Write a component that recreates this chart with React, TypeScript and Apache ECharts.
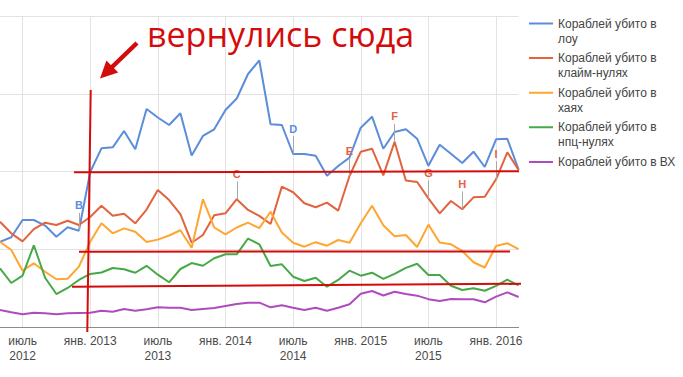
import React, { useEffect, useRef } from "react";
import * as echarts from "echarts";

// Months (May 2012 – March 2016)
const months = [
  "2012-05", "2012-06", "2012-07", "2012-08", "2012-09", "2012-10", "2012-11", "2012-12",
  "2013-01", "2013-02", "2013-03", "2013-04", "2013-05", "2013-06", "2013-07", "2013-08",
  "2013-09", "2013-10", "2013-11", "2013-12", "2014-01", "2014-02", "2014-03", "2014-04",
  "2014-05", "2014-06", "2014-07", "2014-08", "2014-09", "2014-10", "2014-11", "2014-12",
  "2015-01", "2015-02", "2015-03", "2015-04", "2015-05", "2015-06", "2015-07", "2015-08",
  "2015-09", "2015-10", "2015-11", "2015-12", "2016-01", "2016-02", "2016-03",
];

const seriesNames = [
  "Кораблей убито в лоу",
  "Кораблей убито в клайм-нулях",
  "Кораблей убито в хаях",
  "Кораблей убито в нпц-нулях",
  "Кораблей убито в ВХ",
];
const legendLabels = [
  "Кораблей убито в\nлоу",
  "Кораблей убито в\nклайм-нулях",
  "Кораблей убито в\nхаях",
  "Кораблей убито в\nнпц-нулях",
  "Кораблей убито в ВХ\n ",
];
const seriesColors = ["#5b8ddb", "#e4633f", "#ffa632", "#46a946", "#b04bbf"];

const lowSec = [109.7, 115.4, 137.6, 137.6, 130.5, 116.1, 128.2, 123.9, 199.4, 229.8,
  231.1, 252.1, 228.6, 280.4, 269.5, 259.8, 274.9, 220.6, 245.7, 254.3,
  279.1, 293.9, 325.4, 342.8, 260.8, 259.8, 222.5, 222.5, 220.3, 194.5,
  207.1, 217.8, 256.3, 270.5, 229.3, 250.8, 254.4, 242.2, 207.3, 234.5,
  222.9, 210.9, 225.5, 205.8, 241.4, 242.1, 202.3];
const claimNull = [135.4, 120.5, 110.2, 125.8, 134.2, 131.2, 136.7, 131.2, 141.5, 155.9,
  143.2, 145.6, 133.4, 151.0, 176.2, 163.3, 145.3, 108.4, 118.3, 143.7,
  146.2, 164.4, 150.5, 143.0, 132.5, 180.5, 173.3, 159.1, 154.0, 159.9,
  149.6, 194.2, 225.5, 229.3, 195.1, 238.3, 188.4, 186.5, 165.5, 146.2,
  162.1, 151.4, 166.8, 167.6, 190.0, 224.7, 201.9];
const highSec = [109.7, 99.0, 72.4, 81.9, 71.1, 61.4, 62.1, 77.6, 109.7, 133.4,
  120.5, 126.9, 122.6, 109.3, 112.4, 117.7, 124.4, 101.9, 164.2, 128.0,
  119.2, 128.0, 134.2, 127.1, 148.3, 121.5, 108.4, 103.3, 109.1, 104.6,
  111.9, 108.4, 133.4, 155.9, 130.8, 116.7, 118.3, 102.9, 131.7, 108.7,
  106.4, 97.8, 83.3, 76.5, 104.2, 107.7, 100.3];
const npcNull = [75.5, 56.6, 66.0, 105.1, 63.4, 42.4, 50.2, 60.5, 68.2, 70.1,
  75.9, 74.2, 69.8, 78.7, 67.3, 57.5, 74.6, 82.3, 78.8, 88.4,
  93.5, 93.5, 113.8, 106.4, 78.5, 80.6, 64.7, 59.2, 63.4, 51.8,
  60.5, 72.4, 66.0, 69.8, 62.0, 68.4, 76.1, 81.4, 66.9, 66.9,
  53.1, 47.6, 49.8, 46.6, 53.0, 60.8, 53.4];
const wormhole = [21.9, 18.9, 16.3, 18.4, 17.6, 16.3, 17.6, 18.0, 18.4, 21.0,
  19.7, 23.2, 21.0, 22.8, 25.3, 24.8, 24.8, 21.9, 23.2, 24.4,
  27.0, 29.6, 31.3, 31.3, 25.3, 27.9, 24.8, 21.9, 24.8, 21.0,
  24.8, 29.2, 42.8, 46.3, 40.5, 45.4, 42.4, 40.3, 35.8, 33.4,
  36.0, 35.8, 35.8, 31.8, 39.0, 44.6, 38.6];

const seriesValues = [lowSec, claimNull, highSec, npcNull, wormhole];

// Annotations: series index, month, letter
const annotations = [
  { series: 0, month: "2012-12", letter: "B" },
  { series: 1, month: "2014-02", letter: "C" },
  { series: 0, month: "2014-07", letter: "D" },
  { series: 1, month: "2014-12", letter: "E" },
  { series: 1, month: "2015-04", letter: "F" },
  { series: 1, month: "2015-07", letter: "G" },
  { series: 1, month: "2015-10", letter: "H" },
  { series: 1, month: "2016-01", letter: "I" },
];

const Y_MAX = 400;
const Y_STEP = 100;
const STEM = 23; // stem length in value units

const RED = "#d40b0b";
const FONT = "'Liberation Sans', Arial, sans-serif";

export default function App() {
  const ref = useRef<HTMLDivElement>(null);

  useEffect(() => {
    document.body.style.margin = "0";
    const chart = echarts.init(ref.current!, null, { renderer: "svg" });

    const isTick = (v: string) => v.endsWith("-01") || v.endsWith("-07");

    const series = seriesNames.map((name, si) => {
      const annos = annotations.filter((a) => a.series === si);
      const s: any = {
        name,
        type: "line",
        data: seriesValues[si],
        showSymbol: false,
        symbol: "none",
        color: seriesColors[si],
        lineStyle: { width: 2, color: seriesColors[si] },
        emphasis: { disabled: true },
        silent: true,
      };
      if (annos.length) {
        s.markLine = {
          silent: true,
          animation: false,
          symbol: ["none", "none"],
          lineStyle: { color: "#a8a8a8", width: 1, type: "solid" },
          label: {
            show: true,
            position: "end",
            distance: 2,
            formatter: "{b}",
            color: seriesColors[si],
            fontWeight: "bold",
            fontSize: 11,
            fontFamily: FONT,
          },
          emphasis: { disabled: true },
          data: annos.map((a) => {
            const v = seriesValues[si][months.indexOf(a.month)];
            return [
              { name: a.letter, coord: [a.month, v] },
              { coord: [a.month, v + STEM] },
            ];
          }),
        };
      }
      return s;
    });

    chart.setOption({
      animation: false,
      backgroundColor: "#ffffff",
      grid: { left: 0, right: 164.4, top: 16, bottom: 50, containLabel: false },
      xAxis: {
        type: "category",
        data: months,
        boundaryGap: false,
        axisLine: { show: true, lineStyle: { color: "#8c8c8c", width: 1 } },
        axisTick: { show: false },
        splitLine: {
          show: true,
          interval: (_i: number, v: string) => isTick(v),
          lineStyle: { color: "#e3e3e3", width: 1 },
        },
        axisLabel: {
          interval: (_i: number, v: string) => isTick(v),
          formatter: (v: string) => {
            const [y, m] = v.split("-");
            if (m === "01") return `янв. ${y}`;
            if (m === "07") return `июль\n${y}`;
            return "";
          },
          color: "#4a4a4a",
          fontSize: 12,
          fontFamily: FONT,
          lineHeight: 15,
          margin: 6,
        },
      },
      yAxis: {
        type: "value",
        min: 0,
        max: Y_MAX,
        interval: Y_STEP,
        axisLine: { show: false },
        axisTick: { show: false },
        axisLabel: { show: false },
        splitLine: { show: true, lineStyle: { color: "#e3e3e3", width: 1 } },
      },
      legend: {
        orient: "vertical",
        left: 529,
        top: 16,
        padding: 0,
        itemGap: 4.6,
        itemWidth: 24,
        itemHeight: 30,
        icon: "path://M0,0H0.01V0.01H0Z M0,6.5H24V8.5H0Z M0,29.99H0.01V30H0Z",
        itemStyle: { borderWidth: 0 },
        selectedMode: false,
        data: seriesNames,
        formatter: (name: string) => legendLabels[seriesNames.indexOf(name)],
        textStyle: { color: "#444444", fontSize: 12, fontFamily: FONT, lineHeight: 15 },
      },
      series,
      graphic: [
        { type: "line", z: 100, shape: { x1: 90.7, y1: 90, x2: 87.3, y2: 332 }, style: { stroke: RED, lineWidth: 2 } },
        { type: "line", z: 100, shape: { x1: 74, y1: 172.3, x2: 519, y2: 171.3 }, style: { stroke: RED, lineWidth: 2 } },
        { type: "line", z: 100, shape: { x1: 79, y1: 251.7, x2: 510, y2: 251.5 }, style: { stroke: RED, lineWidth: 2 } },
        { type: "line", z: 100, shape: { x1: 72, y1: 286.7, x2: 521, y2: 283.8 }, style: { stroke: RED, lineWidth: 2 } },
        { type: "line", z: 100, shape: { x1: 137, y1: 43, x2: 111, y2: 68 }, style: { stroke: RED, lineWidth: 4.5 } },
        { type: "polygon", z: 100, shape: { points: [[100, 78.5], [106.4, 60.6], [118.2, 72.6]] }, style: { fill: RED } },
        {
          type: "text",
          z: 100,
          x: 147,
          y: 33.5,
          style: {
            text: "вернулись сюда",
            fontSize: 34,
            fontFamily: "'Open Sans'",
            fill: RED,
            verticalAlign: "middle",
          },
        },
      ],
    });

    return () => chart.dispose();
  }, []);

  return (
    <div
      ref={ref}
      style={{ position: "absolute", left: 0, top: 0, width: 683, height: 377, background: "#fff" }}
    />
  );
}
